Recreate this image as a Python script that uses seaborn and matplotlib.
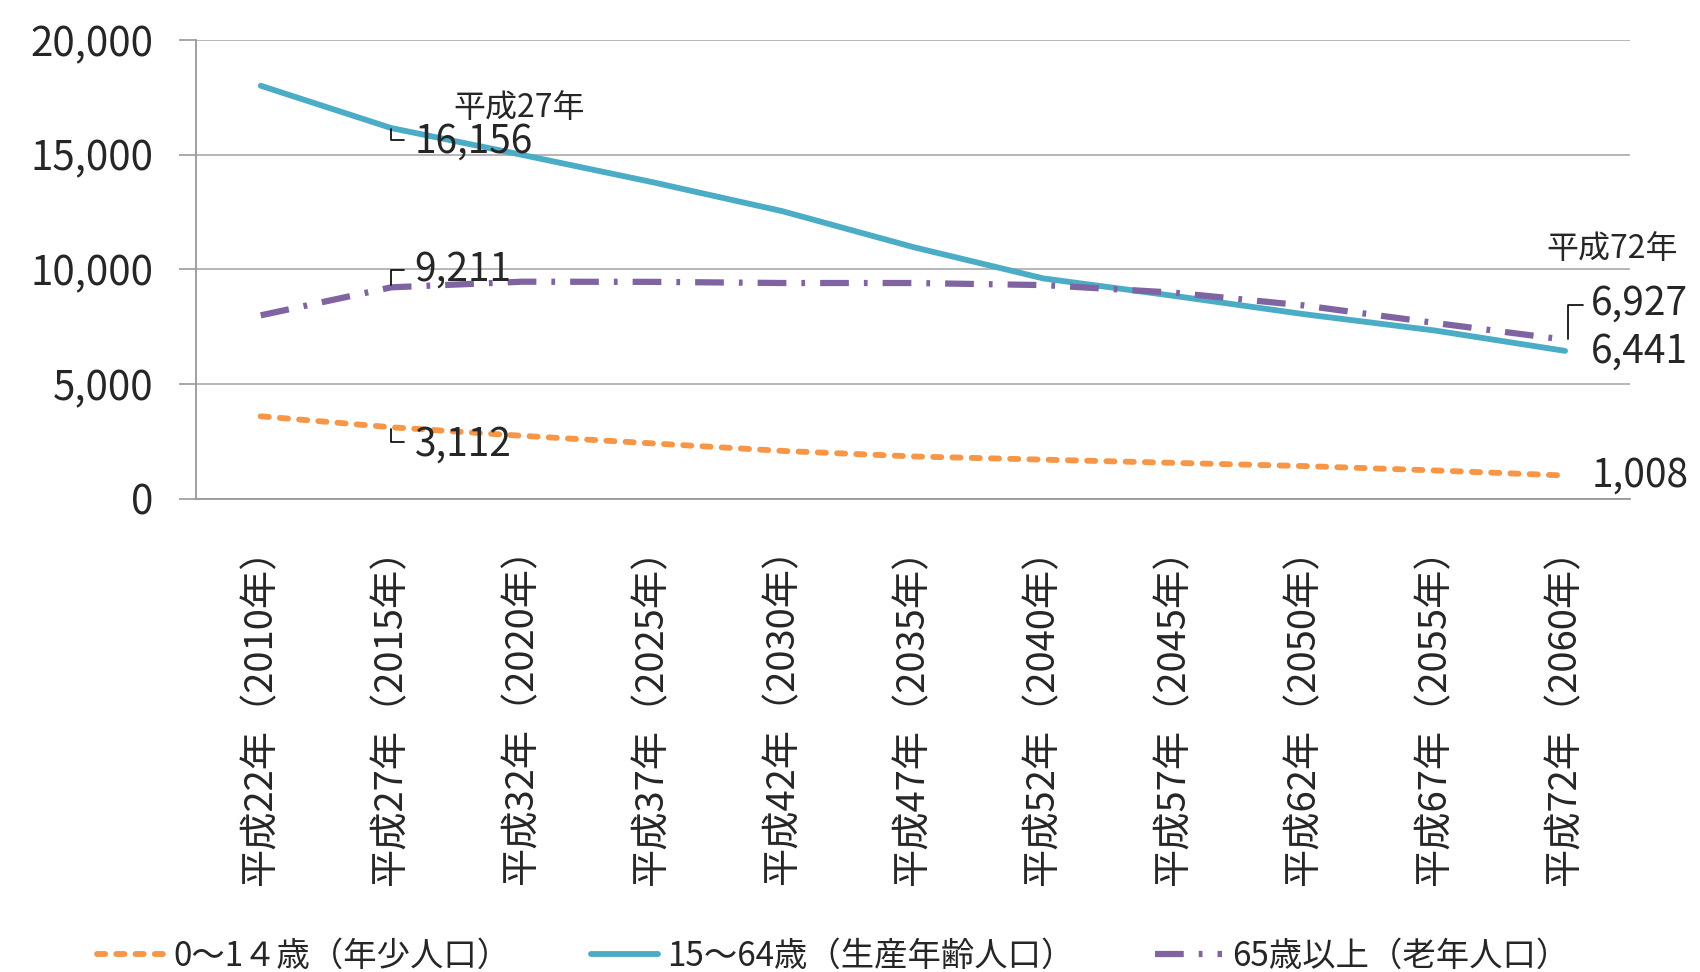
import matplotlib
matplotlib.use("Agg")
import matplotlib.pyplot as plt
import seaborn as sns
import numpy as np
import pandas as pd

categories = ["平成22年（2010年）", "平成27年（2015年）", "平成32年（2020年）", "平成37年（2025年）",
              "平成42年（2030年）", "平成47年（2035年）", "平成52年（2040年）", "平成57年（2045年）",
              "平成62年（2050年）", "平成67年（2055年）", "平成72年（2060年）"]
young = [3590, 3112, 2740, 2410, 2080, 1840, 1700, 1560, 1420, 1230, 1008]
working = [18000, 16156, 14990, 13800, 12530, 10970, 9600, 8840, 8040, 7330, 6441]
elderly = [7990, 9211, 9456, 9450, 9400, 9400, 9310, 8980, 8420, 7660, 6927]
series_names = ["0～1４歳（年少人口）", "15～64歳（生産年齢人口）", "65歳以上（老年人口）"]
yticks = [0, 5000, 10000, 15000, 20000]

sns.set_style("white")
plt.rcParams['font.family'] = ['Noto Sans CJK JP', 'DejaVu Sans']

fig = plt.figure(figsize=(17, 9.72), dpi=100)
ax = fig.add_axes([0.115, 0.487, 0.844, 0.472])

x = np.arange(len(categories))
df = pd.DataFrame({"x": x, "young": young, "working": working, "elderly": elderly})

sns.lineplot(data=df, x="x", y="young", ax=ax, color="#F79646", lw=4.2,
             linestyle=(0, (1.4, 1.9)), dash_capstyle="round", label=series_names[0], legend=False)
sns.lineplot(data=df, x="x", y="working", ax=ax, color="#4BACC6", lw=4.2,
             linestyle="-", solid_capstyle="round", label=series_names[1], legend=False)
sns.lineplot(data=df, x="x", y="elderly", ax=ax, color="#8064A2", lw=4.5,
             linestyle=(0, (4.6, 2.4, 0.6, 2.4)), label=series_names[2], legend=False)

ax.set_xlim(-0.5, len(categories) - 0.5)
ax.set_ylim(0, 20000)
ax.set_yticks(yticks)
ax.set_yticklabels([f"{v:,}" for v in yticks], fontsize=29)
ax.set_xticks(x)
ax.set_xticklabels(categories, rotation=90, fontsize=27.5)
ax.set_xticks(np.arange(-0.5, len(categories)), minor=True)
ax.tick_params(axis="x", which="major", length=0, pad=22)
ax.tick_params(axis="x", which="minor", length=10, width=1.2, color="#999999", direction="out")
ax.tick_params(axis="y", which="major", length=12, width=1.2, color="#999999", direction="out", left=True, pad=18)
ax.set_xlabel("")
ax.set_ylabel("")
ax.yaxis.grid(True, color="#AAAAAA", lw=1.2)
ax.xaxis.grid(False)
for s in ["top", "right"]:
    ax.spines[s].set_visible(False)
for s in ["left", "bottom"]:
    ax.spines[s].set_color("#999999")
    ax.spines[s].set_linewidth(1.3)
ax.set_axisbelow(True)

lab_fs = 28
leader = dict(arrowstyle="-", color="black", lw=1.2, shrinkA=0, shrinkB=0)
# 2015 labels
ax.text(1.98, 17050, "平成27年", fontsize=23, ha="center", va="center", clip_on=False)
ax.text(1.18, 15550, f"{working[1]:,}", fontsize=lab_fs, ha="left", va="center")
ax.annotate("", xy=(1.0, 16100), xytext=(1.1, 15650),
            arrowprops=dict(connectionstyle="angle,angleA=0,angleB=90,rad=0", **leader))
ax.text(1.18, 10000, f"{elderly[1]:,}", fontsize=lab_fs, ha="left", va="center")
ax.annotate("", xy=(1.0, 9300), xytext=(1.1, 9950),
            arrowprops=dict(connectionstyle="angle,angleA=0,angleB=90,rad=0", **leader))
ax.text(1.18, 2350, f"{young[1]:,}", fontsize=lab_fs, ha="left", va="center")
ax.annotate("", xy=(1.0, 3050), xytext=(1.1, 2450),
            arrowprops=dict(connectionstyle="angle,angleA=0,angleB=90,rad=0", **leader))
# 2060 labels
ax.text(10.36, 10880, "平成72年", fontsize=23, ha="center", va="center", clip_on=False)
ax.text(10.2, 8500, f"{elderly[-1]:,}", fontsize=lab_fs, ha="left", va="center", clip_on=False)
ax.annotate("", xy=(10.02, 6950), xytext=(10.14, 8450),
            arrowprops=dict(connectionstyle="angle,angleA=0,angleB=90,rad=0", **leader),
            annotation_clip=False)
ax.text(10.2, 6400, f"{working[-1]:,}", fontsize=lab_fs, ha="left", va="center", clip_on=False)
ax.text(10.2, 1000, f"{young[-1]:,}", fontsize=lab_fs, ha="left", va="center", clip_on=False)

handles = ax.get_lines()[:3]
fig.legend(handles=handles, labels=series_names, loc="lower center", bbox_to_anchor=(0.49, -0.033),
           ncol=3, frameon=False, fontsize=24, handlelength=2.0, columnspacing=2.4, handletextpad=0.3)

fig.savefig("out.png", dpi=100)
